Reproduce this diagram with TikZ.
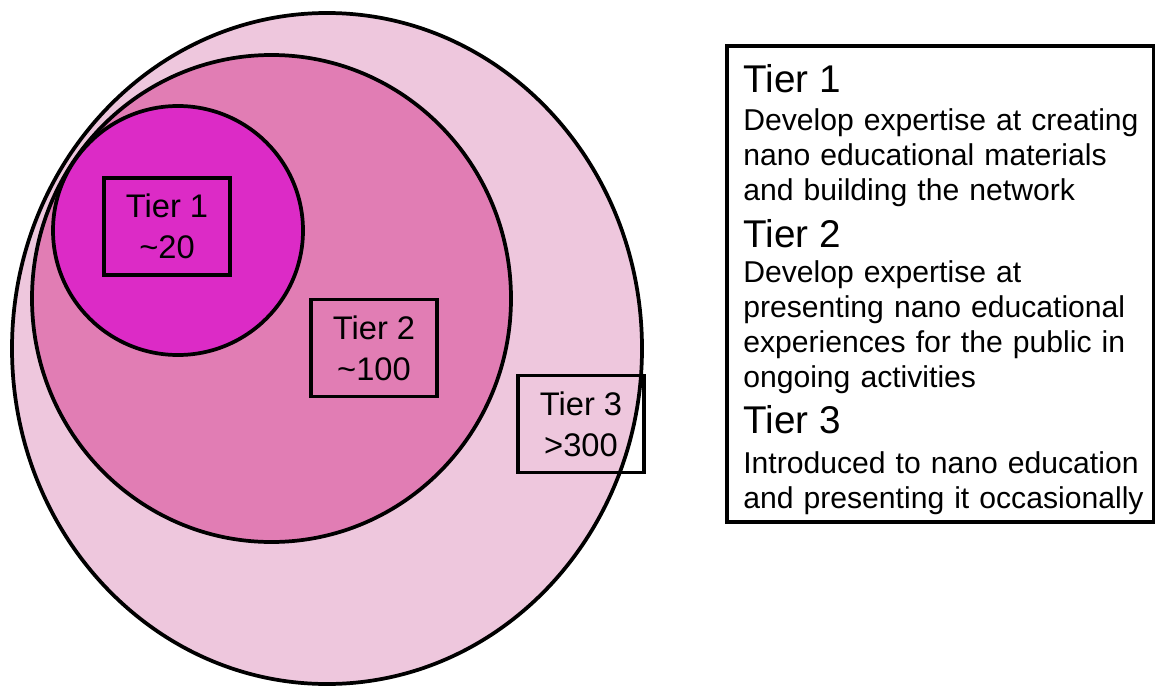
\documentclass[tikz,border=0pt]{standalone}
\usepackage{fontspec}
\setmainfont{Liberation Sans}
\usepackage{tikz}
\usetikzlibrary{shapes.geometric}
\definecolor{tpale}{HTML}{EEC7DD}
\definecolor{tmid}{HTML}{E17DB4}
\definecolor{tcore}{HTML}{DC2BC6}
\tikzset{
  ring/.style={ellipse,draw=black,line width=2.8pt,inner sep=0pt},
  tierbox/.style={draw=black,line width=2.8pt,align=center,inner sep=0pt,minimum width=94.5pt,minimum height=72.75pt,font=\fontsize{24.5}{31}\selectfont},
  head/.style={anchor=base west,inner sep=0pt,font=\fontsize{29}{34}\selectfont},
  body/.style={anchor=base west,inner sep=0pt,text width=315pt,align=left,font=\fontsize{22.6}{26.25}\selectfont},
}
\begin{document}
\begin{tikzpicture}[x=0.75pt,y=-0.75pt]
  \useasboundingbox (0,0) rectangle (1155,685);
  % nested tiers
  \node[ring,fill=tpale,minimum width=472.5pt,minimum height=503.25pt] (outer) at (327,348.5) {};
  \node[ring,fill=tmid,minimum width=359.25pt,minimum height=365.25pt] (middle) at (271.5,298.5) {};
  \node[ring,fill=tcore,minimum width=187.5pt,minimum height=186.75pt] (core) at (178,230.5) {};
  % counts
  \node[tierbox] (t1) at (167,226.5) {Tier 1\\\textasciitilde20};
  \node[tierbox] (t2) at (374,348) {Tier 2\\\textasciitilde100};
  \node[tierbox] (t3) at (581,424) {Tier 3\\>300};
  % legend
  \node[draw=black,line width=2.8pt,minimum width=320.25pt,minimum height=357pt,inner sep=0pt] (legend) at (940.5,284) {};
  \node[head] (h1) at (743,93) {Tier 1};
  \node[body] (b1) at (743,130) {Develop expertise at creating\\nano educational materials\\and building the network};
  \node[head] (h2) at (743,247) {Tier 2};
  \node[body] (b2) at (743,282) {Develop expertise at\\presenting nano educational\\experiences for the public in\\ongoing activities};
  \node[head] (h3) at (743,433) {Tier 3};
  \node[body] (b3) at (743,473) {Introduced to nano education\\and presenting it occasionally};
\end{tikzpicture}
\end{document}
